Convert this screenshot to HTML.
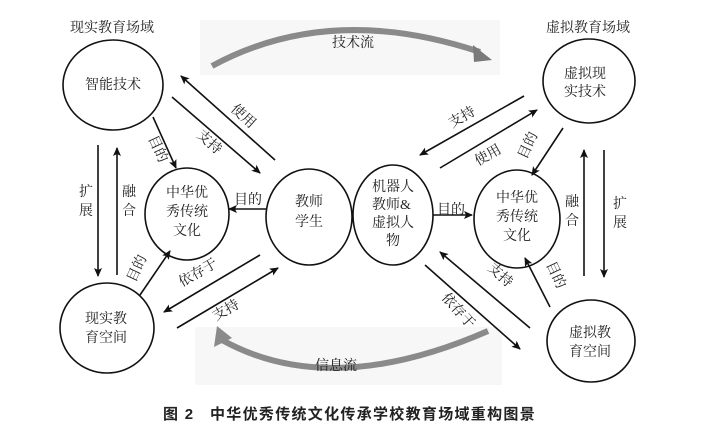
<!DOCTYPE html>
<html><head><meta charset="utf-8"><style>
html,body{margin:0;padding:0;background:#fff;}
svg{display:block;}
text{font-family:"Liberation Serif","Noto Serif CJK SC","Noto Sans CJK SC",serif;font-size:14px;fill:#222;}
.cap{font-family:"Liberation Sans","Noto Sans CJK SC",sans-serif;font-weight:bold;font-size:15px;letter-spacing:1.3px;}
</style></head><body>
<svg width="702" height="447" viewBox="0 0 702 447" xmlns="http://www.w3.org/2000/svg">
<defs>
<marker id="a" markerWidth="10" markerHeight="10" refX="8" refY="5" orient="auto" markerUnits="userSpaceOnUse">
<path d="M0,1 L9,5 L0,9 L2,5 z" fill="#111"/></marker>
</defs>
<rect x="200" y="20" width="300" height="55" fill="#f7f7f7"/>
<rect x="195" y="327" width="307" height="58" fill="#f7f7f7"/>
<!-- tech flow -->
<path d="M212,66 Q330,2 480,52" fill="none" stroke="#8a8a8a" stroke-width="6"/>
<path d="M473,45 L492,60 L474,62 z" fill="#7a7a7a"/>
<text x="332" y="47">技术流</text>
<!-- info flow -->
<path d="M222,340 Q330,400 488,331" fill="none" stroke="#8a8a8a" stroke-width="6"/>
<path d="M214,347 L217,326 L232,338 z" fill="#8a8a8a"/>
<text x="315" y="370">信息流</text>
<g fill="none" stroke="#111" stroke-width="1.6">
<ellipse cx="113" cy="85" rx="50" ry="45"/>
<ellipse cx="187" cy="214" rx="42" ry="46"/>
<ellipse cx="309" cy="217" rx="43" ry="48"/>
<ellipse cx="393" cy="215" rx="40" ry="50"/>
<ellipse cx="517" cy="219" rx="43" ry="49"/>
<ellipse cx="589" cy="81" rx="46" ry="42"/>
<ellipse cx="107" cy="328" rx="47" ry="45"/>
<ellipse cx="591" cy="341" rx="44" ry="41"/>
</g>
<g stroke="#111" stroke-width="1.6" marker-end="url(#a)">
<line x1="275" y1="160" x2="181" y2="76"/>
<line x1="172" y1="97" x2="260" y2="173"/>
<line x1="153" y1="117" x2="176" y2="168"/>
<line x1="98" y1="145" x2="98" y2="276"/>
<line x1="117" y1="275" x2="117" y2="148"/>
<line x1="266" y1="209" x2="229" y2="209"/>
<line x1="433" y1="215" x2="472" y2="215"/>
<line x1="524" y1="96" x2="420" y2="155"/>
<line x1="440" y1="168" x2="537" y2="110"/>
<line x1="563" y1="128" x2="532" y2="175"/>
<line x1="584" y1="276" x2="584" y2="150"/>
<line x1="604" y1="150" x2="604" y2="277"/>
<line x1="140" y1="295" x2="170" y2="251"/>
<line x1="260" y1="255" x2="164" y2="312"/>
<line x1="177" y1="328" x2="278" y2="268"/>
<line x1="530" y1="328" x2="440" y2="252"/>
<line x1="425" y1="265" x2="520" y2="349"/>
<line x1="550" y1="307" x2="525" y2="258"/>
</g>
<text x="70" y="32">现实教育场域</text>
<text x="546" y="32">虚拟教育场域</text>
<text x="85" y="89">智能技术</text>
<text x="564" y="78">虚拟现</text><text x="564" y="96">实技术</text>
<text x="166" y="197">中华优</text><text x="166" y="216">秀传统</text><text x="173" y="235">文化</text>
<text x="496" y="202">中华优</text><text x="496" y="221">秀传统</text><text x="503" y="240">文化</text>
<text x="295" y="206">教师</text><text x="295" y="226">学生</text>
<text x="372" y="191">机器人</text><text x="372" y="209">教师&amp;</text><text x="372" y="227">虚拟人</text><text x="386" y="245">物</text>
<text x="85" y="323">现实教</text><text x="85" y="342">育空间</text>
<text x="569" y="337">虚拟教</text><text x="569" y="356">育空间</text>
<text x="234" y="204">目的</text>
<text x="437" y="214">目的</text>
<text x="79" y="196">扩</text><text x="79" y="215">展</text>
<text x="122" y="196">融</text><text x="122" y="215">合</text>
<text x="565" y="206">融</text><text x="565" y="225">合</text>
<text x="613" y="208">扩</text><text x="613" y="227">展</text>
<text transform="translate(230,110) rotate(42)">使用</text>
<text transform="translate(196,136) rotate(42)">支持</text>
<text transform="translate(148,138) rotate(65)">目的</text>
<text transform="translate(452,128) rotate(-30)">支持</text>
<text transform="translate(478,166) rotate(-30)">使用</text>
<text transform="translate(526,160) rotate(-65)">目的</text>
<text transform="translate(182,287) rotate(-30)">依存于</text>
<text transform="translate(216,321) rotate(-30)">支持</text>
<text transform="translate(135,283) rotate(-65)">目的</text>
<text transform="translate(487,269) rotate(42)">支持</text>
<text transform="translate(441,298) rotate(48)">依存于</text>
<text transform="translate(546,264) rotate(65)">目的</text>
<text class="cap" x="163" y="419">图 2</text>
<text class="cap" x="210" y="419">中华优秀传统文化传承学校教育场域重构图景</text>
</svg>
</body></html>
